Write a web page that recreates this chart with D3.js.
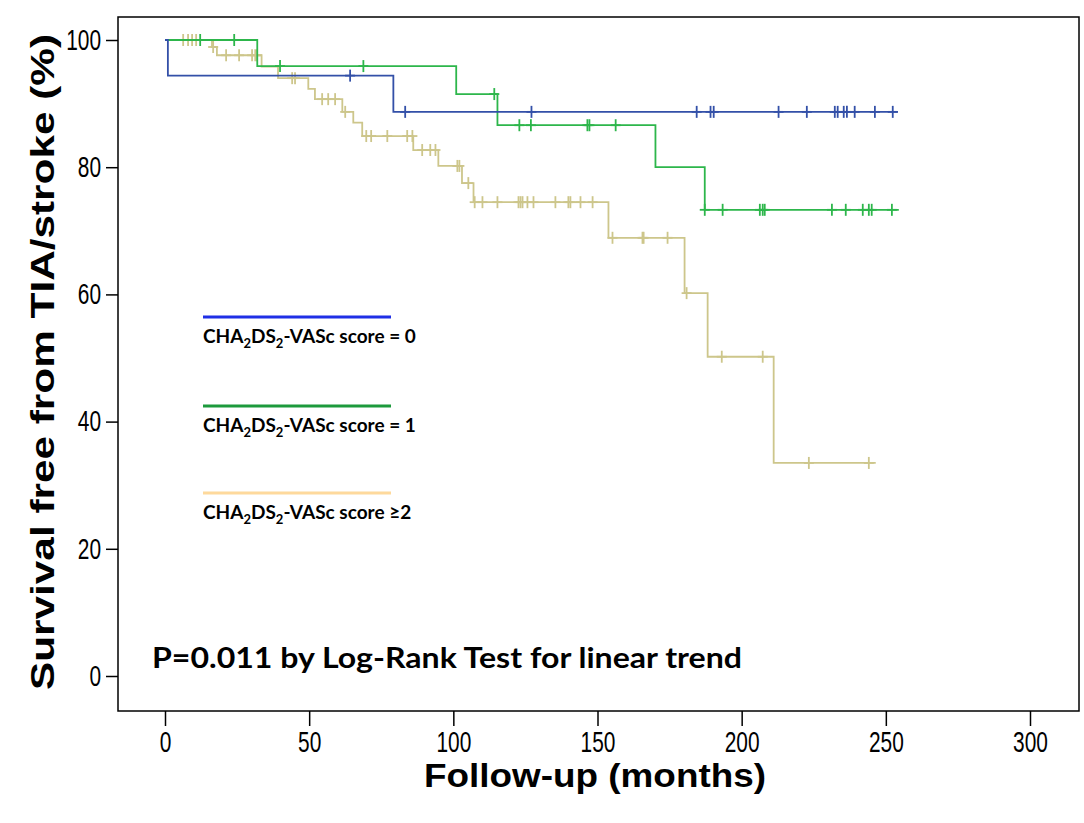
<!DOCTYPE html>
<html>
<head>
<meta charset="utf-8">
<script src="https://cdn.jsdelivr.net/npm/d3@7"></script>
<style>
  body { margin: 0; background: #fff; }
  #chart-root text { fill: #000; }
</style>
</head>
<body>
<div id="chart-root"></div>
<script>
// Step times (months) and survival (%) after each step, plus censored times
const score0Times = [0, 1, 79.2];
const score0Surv = [100, 94.4, 88.7];
const score0End = 254.2;
const score0Censored = [64.2, 83.3, 127.1, 184.4, 189.2, 190.3, 212.8, 222.6, 232.3, 233.3, 235.4, 236.5, 239.2, 246.2, 252.4];

const score1Times = [0, 32, 101, 115.3, 170.1, 187.2];
const score1Surv = [100, 95.9, 91.5, 86.6, 80.0, 73.3];
const score1End = 254.5;
const score1Censored = [12.2, 24.0, 39.9, 68.8, 114.2, 122.9, 126.9, 146.5, 147.2, 156.3, 187.2, 193.4, 206.3, 207.3, 208.0, 231.3, 236.1, 242.0, 244.1, 245.1, 252.1];

const score2Times = [0, 16.3, 18, 33.5, 39.2, 49.7, 52, 61.5, 65.3, 68.4, 86.1, 94.8, 103, 107, 153.8, 180.2, 188.2, 211.1];
const score2Surv = [100, 98.9, 97.6, 95.8, 94.0, 92.3, 90.7, 88.7, 87.0, 84.9, 82.7, 80.2, 77.5, 74.5, 68.9, 60.2, 50.2, 33.5];
const score2End = 246.5;
const score2Censored = [6.3, 8.0, 9.4, 10.8, 16.7, 21.2, 25.7, 30.2, 31.3, 31.9, 44.1, 45.1, 54.5, 56.6, 59.0, 62.5, 69.8, 71.5, 77.1, 84.0, 85.8, 89.2, 92.0, 93.8, 101.4, 102.1, 105.2, 107.4, 110.1, 115.3, 122.6, 123.3, 124.0, 125.7, 127.8, 135.4, 139.9, 140.6, 144.1, 148.3, 155.2, 165.6, 166.0, 174.3, 180.9, 193.1, 207.3, 223.3, 244.1];

const xTicks = [0, 50, 100, 150, 200, 250, 300];
const yTicks = [0, 20, 40, 60, 80, 100];
const groupLabels = ['= 0', '= 1', '\u22652'];

const width = 1084;
const height = 823;
const frame = { left: 118, top: 17, right: 1079, bottom: 711 };

const x = d3.scaleLinear().domain([0, 300]).range([165, 1030]);
const y = d3.scaleLinear().domain([0, 100]).range([676, 40]);

const svg = d3
  .select('#chart-root')
  .append('svg')
  .attr('width', width)
  .attr('height', height);

// squeeze tick labels to look like a narrow face
function narrow(sel) {
  sel
    .style('font-family', '"Liberation Sans", Arial, sans-serif')
    .style('font-size', '29px')
    .each(function() {
      const w = this.getComputedTextLength();
      d3.select(this)
        .attr('textLength', w * 0.72)
        .attr('lengthAdjust', 'spacingAndGlyphs');
    });
}

// plot frame
svg
  .append('rect')
  .attr('x', frame.left)
  .attr('y', frame.top)
  .attr('width', frame.right - frame.left)
  .attr('height', frame.bottom - frame.top)
  .attr('fill', 'none')
  .attr('stroke', '#000')
  .attr('stroke-width', 1.5);

// Add the Y Axis
const yAxis = svg
  .append('g')
  .attr('transform', 'translate(' + frame.left + ',0)')
  .call(d3.axisLeft(y).tickValues(yTicks).tickSize(12).tickPadding(5));
yAxis.select('.domain').remove();
yAxis.selectAll('line').attr('stroke', '#000').attr('stroke-width', 1.5);
yAxis.selectAll('text').call(narrow);

// Add the X Axis
const xAxis = svg
  .append('g')
  .attr('transform', 'translate(0,' + frame.bottom + ')')
  .call(d3.axisBottom(x).tickValues(xTicks).tickSize(15).tickPadding(5));
xAxis.select('.domain').remove();
xAxis.selectAll('line').attr('stroke', '#000').attr('stroke-width', 1.5);
xAxis.selectAll('text').call(narrow);

// axis titles
svg
  .append('text')
  .attr('x', 595)
  .attr('y', 787)
  .attr('text-anchor', 'middle')
  .attr('textLength', 342)
  .attr('lengthAdjust', 'spacingAndGlyphs')
  .style('font-family', '"Liberation Sans", Arial, sans-serif')
  .style('font-weight', 'bold')
  .style('font-size', '34px')
  .text('Follow-up (months)');

svg
  .append('text')
  .attr('transform', 'translate(54,362) rotate(-90)')
  .attr('text-anchor', 'middle')
  .attr('textLength', 656)
  .attr('lengthAdjust', 'spacingAndGlyphs')
  .style('font-family', '"Liberation Sans", Arial, sans-serif')
  .style('font-weight', 'bold')
  .style('font-size', '34px')
  .text('Survival free from TIA/stroke (%)');

const groups = [
  { times: score0Times, surv: score0Surv, end: score0End, censored: score0Censored, color: '#3350a8', legend: '#1f2fe6' },
  { times: score1Times, surv: score1Surv, end: score1End, censored: score1Censored, color: '#2db64b', legend: '#1c9a3c' },
  { times: score2Times, surv: score2Surv, end: score2End, censored: score2Censored, color: '#cdc68b', legend: '#fed99c' }
];

const line = d3
  .line()
  .x(d => x(d[0]))
  .y(d => y(d[1]))
  .curve(d3.curveStepAfter);

// draw tan first so blue and green sit on top
[2, 1, 0].forEach(i => {
  const g = groups[i];
  const pts = g.times.map((t, j) => [t, g.surv[j]]);
  pts.push([g.end, g.surv[g.surv.length - 1]]);

  svg
    .append('path')
    .datum(pts)
    .attr('fill', 'none')
    .attr('stroke', g.color)
    .attr('stroke-width', 1.8)
    .attr('d', line);

  // survival level at a censored time
  const levelAt = t => {
    let s = g.surv[0];
    g.times.forEach((st, j) => { if (st <= t) s = g.surv[j]; });
    return s;
  };

  const marks = svg
    .append('g')
    .attr('stroke', g.color)
    .attr('stroke-width', 1.8)
    .selectAll('g')
    .data(g.censored)
    .enter()
    .append('g')
    .attr('transform', d => 'translate(' + x(d) + ',' + y(levelAt(d)) + ')');
  marks.append('line').attr('x1', 0).attr('x2', 0).attr('y1', -6).attr('y2', 6);
  marks.append('line').attr('x1', -5).attr('x2', 5).attr('y1', 0).attr('y2', 0);
});

// legend
const legendY = [317, 406, 493];
groups.forEach((g, i) => {
  svg
    .append('line')
    .attr('x1', 203)
    .attr('x2', 391)
    .attr('y1', legendY[i])
    .attr('y2', legendY[i])
    .attr('stroke', g.legend)
    .attr('stroke-width', 3);

  const t = svg
    .append('text')
    .attr('x', 203)
    .attr('y', legendY[i] + 26)
    .style('font-family', 'Lato, "Open Sans", sans-serif')
    .style('font-weight', 'bold')
    .style('font-size', '19px');
  t.append('tspan').text('CHA');
  t.append('tspan').attr('dy', 5).style('font-size', '13px').text('2');
  t.append('tspan').attr('dy', -5).text('DS');
  t.append('tspan').attr('dy', 5).style('font-size', '13px').text('2');
  t.append('tspan').attr('dy', -5).text('-VASc score ' + groupLabels[i]);
});

// p-value note
svg
  .append('text')
  .attr('x', 152)
  .attr('y', 668)
  .attr('textLength', 590)
  .attr('lengthAdjust', 'spacingAndGlyphs')
  .style('font-family', 'Lato, "Open Sans", sans-serif')
  .style('font-weight', 'bold')
  .style('font-size', '29px')
  .text('P=0.011 by Log-Rank Test for linear trend');
</script>
</body>
</html>
